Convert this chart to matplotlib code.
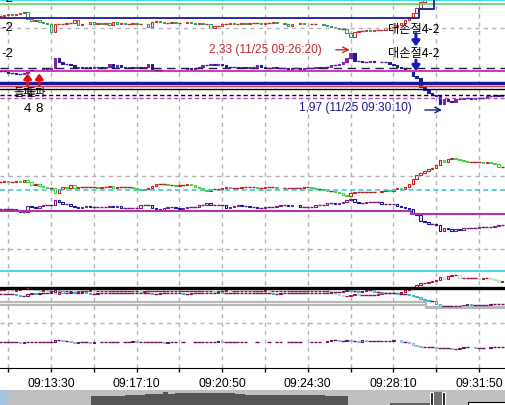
import numpy as np
import pandas as pd
import matplotlib
matplotlib.use('Agg')
import matplotlib.pyplot as plt

plt.rcParams['font.family'] = ['Liberation Sans', 'DejaVu Sans']
KR = ['Noto Sans CJK KR', 'DejaVu Sans']
nan = np.nan

# 10-second bars, 11/25 09:11:20 .. 09:32:50
times = pd.date_range('2024-11-25 09:11:20', periods=130, freq='10s')

# closes of the six overlaid instruments (open = previous close)
s1_close = [1.88, 1.89, 1.90, 1.89, 1.90, 1.91, 1.92, 1.85, 1.83, 1.84,
            1.82, 1.81, 1.80, 1.72, 1.80, 1.80, 1.80, 1.81, 1.81, 1.84,
            1.79, 1.80, nan, 1.82, 1.80, 1.81, 1.80, 1.81, 1.79, 1.82,
            1.80, 1.81, 1.80, 1.80, 1.81, 1.80, 1.80, nan, 1.77, 1.82,
            1.83, 1.82, 1.81, 1.81, 1.82, 1.81, 1.81, nan, 1.82, 1.81,
            1.80, 1.81, 1.80, 1.80, 1.76, 1.78, 1.78, 1.80, 1.80, 1.81,
            1.80, 1.80, 1.81, 1.80, 1.81, 1.81, 1.81, 1.80, 1.81, 1.81,
            1.82, 1.81, nan, 1.80, 1.78, 1.80, nan, 1.81, 1.80, nan,
            1.80, 1.80, nan, 1.79, 1.78, 1.77, 1.76, 1.75, 1.75, 1.71,
            1.67, 1.72, 1.73, 1.73, 1.74, 1.73, 1.74, 1.74, 1.74, 1.76,
            1.76, 1.77, 1.79, 1.81, 1.84, 1.87, 1.91, 1.96, 2.02, 2.08,
            2.13, 2.17, 2.20, 2.23, 2.21, 2.25, 2.24, 2.26, 2.25, 2.24,
            2.25, 2.24, 2.25, 2.23, 2.24, 2.25, 2.24, 2.23, 2.24, 2.22]

s2_close = [2.20, 2.20, 2.19, 2.19, 2.18, 2.18, 2.19, 2.21, 2.21, 2.20,
            2.21, 2.22, 2.21, 2.22, 2.29, 2.26, 2.25, 2.25, 2.24, 2.22,
            2.23, 2.22, 2.23, 2.22, 2.23, 2.23, 2.22, 2.23, 2.25, 2.23,
            2.24, 2.23, 2.22, 2.23, 2.22, 2.23, 2.22, 2.23, 2.25, 2.21,
            2.21, 2.21, 2.20, 2.21, 2.20, 2.21, 2.20, 2.21, 2.22, 2.21,
            2.22, 2.23, 2.24, 2.24, 2.25, 2.24, 2.25, 2.24, 2.23, 2.23,
            2.23, 2.22, 2.23, 2.22, 2.23, 2.23, 2.24, 2.23, 2.22, 2.22,
            2.23, 2.22, 2.22, 2.22, 2.21, 2.22, 2.22, 2.21, 2.22, 2.22,
            2.22, 2.23, 2.22, 2.23, 2.23, 2.24, 2.24, 2.25, 2.26, 2.29,
            2.32, 2.27, 2.27, 2.26, 2.26, 2.27, 2.26, nan, 2.26, 2.26,
            2.25, 2.24, 2.23, 2.22, 2.21, 2.20, 2.17, 2.15, 2.09, 2.07,
            2.05, 2.04, 2.03, 1.98, 2.01, 2.00, 1.99, 2.01, 2.01, 2.02,
            2.02, 2.01, 2.02, 2.02, 2.02, 2.03, 2.03, 2.04, 2.03, 2.04]

s3_close = [1.55, 1.56, 1.55, 1.55, 1.56, 1.55, 1.57, 1.55, 1.52, 1.53,
            1.51, 1.50, 1.49, 1.49, 1.44, 1.48, 1.50, 1.49, 1.52, 1.49,
            1.50, 1.50, 1.50, 1.50, 1.50, 1.49, 1.50, 1.50, 1.51, 1.49,
            1.50, 1.50, 1.50, 1.50, 1.49, 1.48, 1.47, 1.48, 1.49, 1.51,
            1.53, 1.53, 1.53, 1.52, 1.52, 1.51, 1.52, 1.52, 1.53, 1.52,
            1.50, 1.49, 1.47, 1.46, 1.48, 1.48, 1.48, 1.49, 1.50, 1.49,
            1.49, 1.49, 1.50, 1.50, 1.50, 1.50, 1.49, 1.49, 1.50, 1.50,
            1.50, 1.49, nan, 1.49, 1.49, 1.49, 1.49, 1.49, 1.50, 1.50,
            1.49, 1.48, 1.48, 1.47, 1.46, 1.46, 1.45, 1.44, 1.42, 1.41,
            1.44, 1.45, 1.45, 1.45, 1.45, 1.45, 1.45, nan, 1.46, 1.47,
            1.46, 1.48, 1.49, 1.48, 1.50, 1.53, 1.58, 1.62, 1.64, 1.66,
            1.68, 1.69, 1.72, 1.77, 1.75, 1.78, 1.79, 1.78, 1.77, 1.76,
            1.75, 1.75, 1.75, 1.75, 1.74, 1.75, 1.74, 1.73, 1.70, 1.70]

s4_close = [2.08, 2.08, 2.08, 2.08, 2.06, 2.05, 2.05, 2.11, 2.10, 2.09,
            2.11, 2.12, 2.12, 2.12, 2.17, 2.15, 2.13, 2.13, 2.11, 2.10,
            2.09, 2.10, 2.11, 2.10, 2.10, 2.10, 2.10, 2.10, 2.11, 2.10,
            2.11, 2.09, 2.09, 2.09, 2.09, 2.09, 2.12, 2.12, 2.12, 2.09,
            2.08, 2.07, 2.09, 2.10, 2.10, 2.09, 2.08, 2.09, 2.10, 2.10,
            2.10, 2.12, 2.12, 2.14, 2.12, 2.12, 2.12, 2.12, 2.09, 2.10,
            2.11, 2.12, 2.11, 2.11, 2.10, 2.10, 2.09, 2.09, 2.10, 2.10,
            2.10, 2.11, 2.12, 2.12, 2.11, 2.12, nan, 2.10, 2.10, 2.10,
            2.10, 2.12, 2.12, 2.12, 2.14, 2.14, 2.13, 2.14, 2.15, 2.17,
            2.18, 2.15, 2.14, 2.14, 2.15, 2.15, 2.15, 2.15, 2.13, 2.13,
            2.13, 2.13, 2.11, 2.10, 2.09, 2.08, 2.04, 2.02, 1.96, 1.95,
            1.93, 1.93, 1.92, 1.86, 1.89, 1.88, 1.86, 1.88, 1.87, 1.89,
            1.89, 1.89, 1.89, 1.90, 1.90, 1.90, 1.90, 1.91, 1.92, 1.92]

s5a_close = [1.21, 1.22, 1.21, 1.20, 1.21, 1.22, 1.23, 1.23, 1.22, 1.21,
             1.20, 1.21, 1.20, 1.20, 1.17, 1.19, 1.20, 1.20, 1.20, 1.19,
             1.20, 1.20, 1.20, 1.21, 1.20, 1.20, 1.20, 1.20, 1.20, 1.20,
             1.20, 1.20, 1.20, 1.20, 1.20, 1.20, 1.19, 1.20, 1.20, 1.20,
             1.20, 1.20, 1.20, 1.20, 1.20, 1.20, 1.20, 1.20, 1.20, 1.20,
             1.20, 1.20, 1.20, 1.20, 1.20, 1.19, 1.20, 1.20, 1.21, 1.20,
             1.20, 1.20, 1.20, 1.20, 1.20, 1.20, 1.20, 1.20, 1.21, 1.20,
             1.20, 1.20, 1.20, 1.20, 1.20, 1.20, 1.20, 1.20, 1.20, 1.20,
             1.20, 1.20, 1.20, 1.20, 1.20, 1.18, 1.17, 1.16, 1.15, 1.15,
             1.16, 1.17, 1.16, 1.16, 1.16, 1.16, 1.16, 1.17, 1.18, 1.18,
             1.18, 1.18, 1.18, 1.19, 1.21, 1.22, 1.24, 1.26, 1.28, 1.28,
             1.29, 1.30, 1.31, 1.34, 1.32, 1.35, 1.36, 1.36, 1.33, 1.33,
             1.33, 1.33, 1.33, 1.32, 1.33, 1.33, 1.32, 1.31, 1.29, 1.30]

s5b_close = [0.90, 0.90, 0.90, 0.90, 0.89, 0.88, 0.88, 0.90, 0.91, 0.90,
             0.91, 0.91, 0.91, 0.92, 0.94, 0.93, 0.91, 0.91, 0.92, 0.91,
             0.91, 0.92, 0.91, 0.90, 0.90, 0.91, 0.91, 0.91, 0.91, 0.91,
             0.91, 0.91, 0.91, 0.91, 0.91, 0.91, 0.91, 0.91, 0.91, 0.90,
             0.90, 0.91, 0.91, 0.91, 0.91, 0.91, 0.91, 0.90, 0.90, 0.91,
             0.91, 0.91, 0.91, 0.91, 0.91, 0.91, 0.92, 0.91, 0.91, 0.91,
             0.91, 0.91, 0.91, 0.91, 0.91, 0.91, 0.91, 0.91, 0.91, 0.91,
             0.90, 0.90, 0.91, 0.91, 0.91, 0.91, 0.91, 0.91, 0.91, 0.91,
             0.91, 0.91, 0.91, 0.91, 0.91, 0.92, 0.92, 0.92, 0.93, 0.94,
             0.93, 0.93, 0.92, 0.93, 0.94, 0.94, 0.92, 0.92, 0.91, 0.91,
             0.91, 0.91, 0.90, 0.90, 0.90, 0.89, 0.88, 0.87, 0.85, 0.84,
             0.83, 0.83, 0.80, 0.78, 0.78, 0.78, 0.78, 0.78, 0.78, 0.79,
             0.80, 0.79, 0.79, 0.79, 0.79, 0.79, 0.80, 0.80, 0.80, 0.80]

s6_close = [0.50, 0.50, 0.50, 0.50, 0.50, 0.49, 0.50, 0.50, 0.50, 0.50,
            0.50, 0.50, 0.50, 0.50, 0.52, 0.52, 0.51, 0.51, 0.50, 0.49,
            0.50, 0.50, 0.50, 0.49, 0.50, nan, 0.50, 0.50, 0.50, 0.50,
            0.50, nan, 0.50, 0.50, 0.51, 0.50, 0.50, 0.50, 0.50, 0.50,
            0.50, 0.50, 0.49, 0.50, 0.50, 0.50, nan, 0.50, nan, nan,
            0.50, 0.50, 0.50, 0.50, 0.50, 0.50, 0.51, 0.50, 0.50, 0.50,
            0.50, 0.50, 0.50, 0.50, nan, nan, 0.50, nan, nan, 0.50,
            nan, 0.50, 0.50, nan, 0.50, 0.50, 0.50, 0.50, nan, nan,
            0.50, 0.50, 0.50, nan, 0.51, 0.52, 0.52, 0.51, 0.51, 0.52,
            0.51, 0.51, 0.50, 0.52, 0.51, 0.51, 0.51, 0.51, 0.51, 0.51,
            0.51, 0.52, nan, 0.50, 0.50, 0.49, 0.47, 0.46, 0.45, 0.45,
            0.45, 0.45, 0.44, 0.44, 0.44, 0.44, 0.43, 0.43, 0.44, 0.45,
            0.45, nan, 0.44, 0.44, 0.44, nan, 0.45, 0.45, 0.45, 0.45]

# stepped stop lines: bar index where each level starts
s1_stop_from, s1_stop_lvl = [0, 108, 112], [1.86, 1.95, 2.10]
s4_line_from, s4_line_lvl = [0, 106], [2.06, 2.03]
gray_from = [0, 110]
gray_hi_lvl, gray_lo_lvl = [0.82, 0.77], [0.79, 0.76]

# scroll bar overview (pixel x, fraction of bar height)
overview_x = [91, 100, 110, 120, 130, 140, 150, 160, 165, 170, 180, 190, 200, 210,
              220, 230, 240, 250, 260, 270, 280, 290, 300, 310, 320, 330, 340, 348]
overview_h = [0.55, 0.56, 0.58, 0.57, 0.62, 0.66, 0.68, 0.70, 0.86, 0.74, 0.76, 0.78,
              0.77, 0.76, 0.75, 0.76, 0.74, 0.66, 0.64, 0.65, 0.63, 0.64, 0.62, 0.63,
              0.62, 0.61, 0.60, 0.60]

W, H = 505, 406
AX_BOTTOM_PX = 369
n = len(times)

fig = plt.figure(figsize=(W / 100, H / 100), dpi=100)
rect = [0, 1 - AX_BOTTOM_PX / H, 1, AX_BOTTOM_PX / H]

base = fig.add_axes(rect)
base.set_xlim(-0.1, 129.7)
base.set_ylim(0, 1)
base.set_yticks([])
for side in ['top', 'left', 'right']:
    base.spines[side].set_visible(False)
tick_idx = list(range(2, n, 11))
base.set_xticks(tick_idx)
base.set_xticklabels([times[i].strftime('%H:%M:%S') if (i - 13) % 22 == 0 else ''
                      for i in tick_idx])
base.tick_params(axis='x', direction='out', length=3, width=1, pad=3.5, labelsize=8.8)
base.grid(axis='x', color='#b4b4b4', linestyle=(0, (3, 3)), linewidth=1)


def panel(ref_val, ref_px, ppu):
    ax = fig.add_axes(rect, sharex=base)
    ax.set_ylim(ref_val - (AX_BOTTOM_PX - ref_px) / ppu, ref_val + ref_px / ppu)
    ax.axis('off')
    return ax


def candles(ax, closes, up, down, flat, hollow=True):
    c = np.array(closes, dtype=float)
    o = c.copy()
    last = nan
    for i, v in enumerate(c):
        if not np.isnan(v):
            o[i] = v if np.isnan(last) else last
            last = v
    x = np.arange(len(c))
    ok = ~np.isnan(c)
    rise = ok & (c - o > 0.001)
    fall = ok & (o - c > 0.001)
    same = ok & ~rise & ~fall
    ax.bar(x[rise], (c - o)[rise], bottom=o[rise], width=0.62,
           facecolor=up if not hollow else 'white', edgecolor=up, linewidth=0.8)
    ax.bar(x[fall], (o - c)[fall], bottom=c[fall], width=0.62,
           facecolor=down if not hollow else 'white', edgecolor=down, linewidth=0.8)
    ax.hlines(c[same], x[same] - 0.45, x[same] + 0.45, color=flat, linewidth=1.0)


def step_line(ax, starts, levels, **kw):
    xs = [s - 0.5 for s in starts] + [n + 1]
    ax.step(xs, levels + [levels[-1]], where='post', **kw)


grid_kw = dict(color='#b4b4b4', linestyle=(0, (3, 3)), linewidth=1)

# panel 1 (top)
ax1 = panel(1.80, 25, 100)
ax1.axhline(2.04, color='#40dcdc', linewidth=1.5)
ax1.axhline(2.00, color='#5cd25c', linewidth=1.2)
ax1.axhline(1.76, **grid_kw)
step_line(ax1, s1_stop_from, s1_stop_lvl, color='#1a1a96', linewidth=1.3)
candles(ax1, s1_close, '#c83030', '#2f9a6a', '#b03030')

# panel 3
ax3 = panel(1.50, 188, 100)
ax3.axhline(1.61, **grid_kw)
ax3.axhline(1.47, color='#46c8d2', linestyle=(0, (3, 2)), linewidth=1.2)
candles(ax3, s3_close, '#c82020', '#3cd23c', '#a82020')

# panel 4
ax4 = panel(2.10, 208, 100)
ax4.axhline(1.68, **grid_kw)
step_line(ax4, s4_line_from, s4_line_lvl, color='#b432b4', linewidth=1.5)
candles(ax4, s4_close, '#7a1a7a', '#141496', '#6a1a6a')

# panel 5 (two instruments)
ax5a = panel(1.20, 292, 100)
ax5a.axhline(1.40, color='#50d8e0', linewidth=1.5)
ax5a.axhline(1.235, color='black', linewidth=2.4)
ax5b = panel(0.90, 295, 100)
step_line(ax5b, gray_from, gray_hi_lvl, color='#b8b8b8', linewidth=1.6)
step_line(ax5b, gray_from, gray_lo_lvl, color='#b8b8b8', linewidth=1.6)
candles(ax5a, s5a_close, '#b41030', '#b4e6b4', '#a01040')
candles(ax5b, s5b_close, '#701060', '#30b4d2', '#6a1060')

# panel 6 (bottom)
ax6 = panel(0.50, 343, 100)
ax6.axhline(0.69, **grid_kw)
candles(ax6, s6_close, '#6a1060', '#8cb4e0', '#6a1060')

# panel 2 (drawn last, carries the annotations)
ax2 = panel(2.33, 53, 147.2)
ax2.axhline(2.22, color='#202040', linestyle=(0, (6, 4)), linewidth=1)
ax2.axhline(2.20, color='#c83cc8', linewidth=1.5)
ax2.axhline(2.12, color='#1a1aa0', linewidth=2.5)
ax2.axhline(2.10, color='#d04040', linewidth=1)
ax2.axhline(2.08, color='black', linewidth=1)
ax2.axhline(2.04, color='black', linestyle=(0, (3, 2)), linewidth=1)
ax2.axhline(2.02, color='#c040c0', linestyle=(0, (3, 2)), linewidth=1)
candles(ax2, s2_close, '#7a28a0', '#1c1c9c', '#5a2090', hollow=False)

hi_i, lo_i = 90, 113
red = '#c82828'
navy = '#1a1a8c'
ax2.text(82.7, 2.35, '2,33 (11/25 %s)' % times[hi_i].strftime('%H:%M:%S'),
         color=red, ha='right', va='center', fontsize=8.6)
ax2.annotate('', xy=(89.8, 2.345), xytext=(86.2, 2.345),
             arrowprops=dict(arrowstyle='->', color=red, lw=1, shrinkA=0, shrinkB=0))
ax2.text(105.8, 1.956, '1,97 (11/25 %s)' % times[lo_i].strftime('%H:%M:%S'),
         color=navy, ha='right', va='center', fontsize=8.6)
ax2.annotate('', xy=(113.5, 1.936), xytext=(109.1, 1.936),
             arrowprops=dict(arrowstyle='->', color=navy, lw=1, shrinkA=0, shrinkB=0))

for y in [2.493, 2.33]:
    ax2.text(99.6, y, '대손절4-2', family=KR, fontsize=8.8, ha='left', va='center')
for y0, y1 in [(2.455, 2.368), (2.275, 2.201)]:
    ax2.annotate('', xy=(106.8, y1), xytext=(106.8, y0),
                 arrowprops=dict(arrowstyle='-|>,head_width=0.22,head_length=0.3',
                                 color='#1a1ab4', lw=2.2, shrinkA=0, shrinkB=0))

for bar, num in [(7, '4'), (10, '8')]:
    ax2.annotate('', xy=(bar, 2.185), xytext=(bar, 2.103),
                 arrowprops=dict(arrowstyle='-|>,head_width=0.22,head_length=0.3',
                                 color='#e01010', lw=2, shrinkA=0, shrinkB=0))
    ax2.text(bar - 1.0, 2.058, '돌파', family=KR, fontsize=8, ha='center', va='center')
    ax2.text(bar, 1.95, num, fontsize=9.5, ha='center', va='center')

# truncated price labels at the left edge
for py in [-1, 28, 54]:
    fig.text(0.002, 1 - py / H, '-2', fontsize=9.5, ha='left', va='center')

# scroll bar
sb = fig.add_axes([0, 0, 1, 15.5 / H])
sb.set_xlim(0, W)
sb.set_ylim(0, 1)
sb.axis('off')
sb.axvspan(7, W, color='#c0c0c0')
sb.axvspan(0, 7, color='#a4c4e4')
sb.fill_between(overview_x, 0, overview_h, step='mid', color='#555555', linewidth=0)
sb.fill_between([390, 430], 0, [0.12, 0.12], color='#606060', linewidth=0)
sb.axvspan(433, 442, ymax=0.85, color='#707070')
for x0 in [430, 442]:
    sb.axvspan(x0, x0 + 3, ymax=0.85, facecolor='#222222', edgecolor='white', linewidth=0.8)
sb.add_patch(plt.Rectangle((468, -0.1), 40, 0.3, facecolor='white', edgecolor='black', linewidth=0.8))

fig.savefig('out.png', dpi=100)
